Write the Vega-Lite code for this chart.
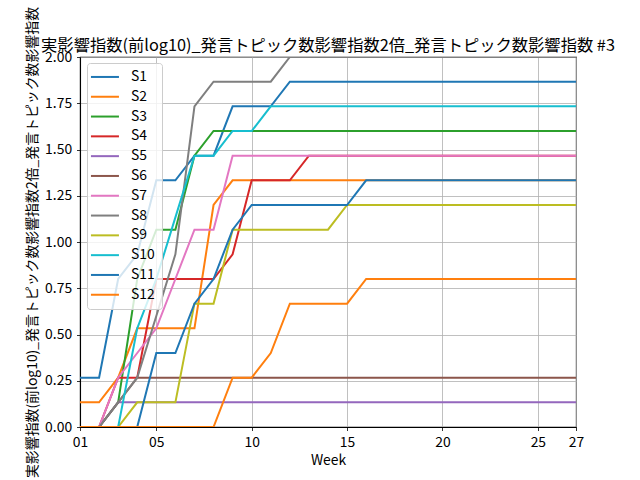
{
  "$schema": "https://vega.github.io/schema/vega-lite/v6.json",
  "width": 496,
  "height": 370,
  "autosize": {"type": "none"},
  "padding": {"left": 80, "top": 57, "right": 64, "bottom": 53},
  "background": "white",
  "title": {
    "text": "実影響指数(前log10)_発言トピック数影響指数2倍_発言トピック数影響指数 #3",
    "font": "Noto Sans CJK JP",
    "fontSize": 16.3,
    "fontWeight": "normal",
    "color": "black",
    "frame": "group",
    "anchor": "middle",
    "baseline": "alphabetic",
    "offset": -61
  },
  "data": {
    "values": [
      {"w":1,"S1":0.2667,"S2":0.1333,"S3":0,"S4":0,"S5":0,"S6":0,"S7":0,"S8":0,"S9":0,"S10":0,"S11":0,"S12":0},
      {"w":2,"S1":0.2667,"S2":0.1333,"S3":0,"S4":0,"S5":0,"S6":0,"S7":0,"S8":0,"S9":0,"S10":0,"S11":0,"S12":0},
      {"w":3,"S1":0.8,"S2":0.2667,"S3":0.1333,"S4":0.2667,"S5":0.1333,"S6":0.1333,"S7":0.2667,"S8":0.1333,"S9":0,"S10":0,"S11":0,"S12":0},
      {"w":4,"S1":0.9333,"S2":0.5333,"S3":0.8,"S4":0.2667,"S5":0.1333,"S6":0.2667,"S7":0.4,"S8":0.2667,"S9":0.1333,"S10":0.5333,"S11":0,"S12":0},
      {"w":5,"S1":1.3333,"S2":0.5333,"S3":1.0667,"S4":0.8,"S5":0.1333,"S6":0.2667,"S7":0.5333,"S8":0.6,"S9":0.1333,"S10":0.8,"S11":0.4,"S12":0},
      {"w":6,"S1":1.3333,"S2":0.5333,"S3":1.0667,"S4":0.8,"S5":0.1333,"S6":0.2667,"S7":0.8,"S8":0.9333,"S9":0.1333,"S10":1.1333,"S11":0.4,"S12":0},
      {"w":7,"S1":1.4667,"S2":0.5333,"S3":1.4667,"S4":0.8,"S5":0.1333,"S6":0.2667,"S7":1.0667,"S8":1.7333,"S9":0.6667,"S10":1.4667,"S11":0.6667,"S12":0},
      {"w":8,"S1":1.4667,"S2":1.2,"S3":1.6,"S4":0.8,"S5":0.1333,"S6":0.2667,"S7":1.0667,"S8":1.8667,"S9":0.6667,"S10":1.4667,"S11":0.8,"S12":0},
      {"w":9,"S1":1.7333,"S2":1.3333,"S3":1.6,"S4":0.9333,"S5":0.1333,"S6":0.2667,"S7":1.4667,"S8":1.8667,"S9":1.0667,"S10":1.6,"S11":1.0667,"S12":0.2667},
      {"w":10,"S1":1.7333,"S2":1.3333,"S3":1.6,"S4":1.3333,"S5":0.1333,"S6":0.2667,"S7":1.4667,"S8":1.8667,"S9":1.0667,"S10":1.6,"S11":1.2,"S12":0.2667},
      {"w":11,"S1":1.7333,"S2":1.3333,"S3":1.6,"S4":1.3333,"S5":0.1333,"S6":0.2667,"S7":1.4667,"S8":1.8667,"S9":1.0667,"S10":1.7333,"S11":1.2,"S12":0.4},
      {"w":12,"S1":1.8667,"S2":1.3333,"S3":1.6,"S4":1.3333,"S5":0.1333,"S6":0.2667,"S7":1.4667,"S8":2,"S9":1.0667,"S10":1.7333,"S11":1.2,"S12":0.6667},
      {"w":13,"S1":1.8667,"S2":1.3333,"S3":1.6,"S4":1.4667,"S5":0.1333,"S6":0.2667,"S7":1.4667,"S8":2,"S9":1.0667,"S10":1.7333,"S11":1.2,"S12":0.6667},
      {"w":14,"S1":1.8667,"S2":1.3333,"S3":1.6,"S4":1.4667,"S5":0.1333,"S6":0.2667,"S7":1.4667,"S8":2,"S9":1.0667,"S10":1.7333,"S11":1.2,"S12":0.6667},
      {"w":15,"S1":1.8667,"S2":1.3333,"S3":1.6,"S4":1.4667,"S5":0.1333,"S6":0.2667,"S7":1.4667,"S8":2,"S9":1.2,"S10":1.7333,"S11":1.2,"S12":0.6667},
      {"w":16,"S1":1.8667,"S2":1.3333,"S3":1.6,"S4":1.4667,"S5":0.1333,"S6":0.2667,"S7":1.4667,"S8":2,"S9":1.2,"S10":1.7333,"S11":1.3333,"S12":0.8},
      {"w":17,"S1":1.8667,"S2":1.3333,"S3":1.6,"S4":1.4667,"S5":0.1333,"S6":0.2667,"S7":1.4667,"S8":2,"S9":1.2,"S10":1.7333,"S11":1.3333,"S12":0.8},
      {"w":18,"S1":1.8667,"S2":1.3333,"S3":1.6,"S4":1.4667,"S5":0.1333,"S6":0.2667,"S7":1.4667,"S8":2,"S9":1.2,"S10":1.7333,"S11":1.3333,"S12":0.8},
      {"w":19,"S1":1.8667,"S2":1.3333,"S3":1.6,"S4":1.4667,"S5":0.1333,"S6":0.2667,"S7":1.4667,"S8":2,"S9":1.2,"S10":1.7333,"S11":1.3333,"S12":0.8},
      {"w":20,"S1":1.8667,"S2":1.3333,"S3":1.6,"S4":1.4667,"S5":0.1333,"S6":0.2667,"S7":1.4667,"S8":2,"S9":1.2,"S10":1.7333,"S11":1.3333,"S12":0.8},
      {"w":21,"S1":1.8667,"S2":1.3333,"S3":1.6,"S4":1.4667,"S5":0.1333,"S6":0.2667,"S7":1.4667,"S8":2,"S9":1.2,"S10":1.7333,"S11":1.3333,"S12":0.8},
      {"w":22,"S1":1.8667,"S2":1.3333,"S3":1.6,"S4":1.4667,"S5":0.1333,"S6":0.2667,"S7":1.4667,"S8":2,"S9":1.2,"S10":1.7333,"S11":1.3333,"S12":0.8},
      {"w":23,"S1":1.8667,"S2":1.3333,"S3":1.6,"S4":1.4667,"S5":0.1333,"S6":0.2667,"S7":1.4667,"S8":2,"S9":1.2,"S10":1.7333,"S11":1.3333,"S12":0.8},
      {"w":24,"S1":1.8667,"S2":1.3333,"S3":1.6,"S4":1.4667,"S5":0.1333,"S6":0.2667,"S7":1.4667,"S8":2,"S9":1.2,"S10":1.7333,"S11":1.3333,"S12":0.8},
      {"w":25,"S1":1.8667,"S2":1.3333,"S3":1.6,"S4":1.4667,"S5":0.1333,"S6":0.2667,"S7":1.4667,"S8":2,"S9":1.2,"S10":1.7333,"S11":1.3333,"S12":0.8},
      {"w":26,"S1":1.8667,"S2":1.3333,"S3":1.6,"S4":1.4667,"S5":0.1333,"S6":0.2667,"S7":1.4667,"S8":2,"S9":1.2,"S10":1.7333,"S11":1.3333,"S12":0.8},
      {"w":27,"S1":1.8667,"S2":1.3333,"S3":1.6,"S4":1.4667,"S5":0.1333,"S6":0.2667,"S7":1.4667,"S8":2,"S9":1.2,"S10":1.7333,"S11":1.3333,"S12":0.8}
    ]
  },
  "transform": [
    {"fold": ["S1","S2","S3","S4","S5","S6","S7","S8","S9","S10","S11","S12"], "as": ["series", "value"]}
  ],
  "mark": {"type": "line", "strokeWidth": 2, "clip": true},
  "encoding": {
    "x": {
      "field": "w",
      "type": "quantitative",
      "scale": {"domain": [1, 27], "nice": false, "zero": false},
      "axis": {
        "values": [1, 5, 10, 15, 20, 25, 27],
        "labelExpr": "datum.value < 10 ? '0' + datum.value : '' + datum.value",
        "title": "Week",
        "titlePadding": 4
      }
    },
    "y": {
      "field": "value",
      "type": "quantitative",
      "scale": {"domain": [0, 2], "nice": false},
      "axis": {
        "values": [0, 0.25, 0.5, 0.75, 1, 1.25, 1.5, 1.75, 2],
        "format": ".2f",
        "title": "実影響指数(前log10)_発言トピック数影響指数2倍_発言トピック数影響指数",
        "titlePadding": 5,
        "titleLimit": 2000
      }
    },
    "color": {
      "field": "series",
      "type": "nominal",
      "scale": {
        "domain": ["S1","S2","S3","S4","S5","S6","S7","S8","S9","S10","S11","S12"],
        "range": ["#1f77b4","#ff7f0e","#2ca02c","#d62728","#9467bd","#8c564b","#e377c2","#7f7f7f","#bcbd22","#17becf","#1f77b4","#ff7f0e"]
      },
      "legend": {
        "orient": "none",
        "legendX": 7,
        "legendY": 6,
        "title": null,
        "symbolType": "M-2.8,0H2.8",
        "symbolSize": 100,
        "symbolStrokeWidth": 2,
        "symbolOffset": 4,
        "labelFont": "Noto Sans CJK JP",
        "labelFontSize": 13.9,
        "labelColor": "black",
        "labelOffset": 19,
        "rowPadding": 4.8,
        "padding": 7,
        "fillColor": "rgba(255,255,255,0.8)",
        "strokeColor": "#cccccc",
        "cornerRadius": 3
      }
    }
  },
  "config": {
    "view": {"stroke": "black", "strokeWidth": 1.1},
    "axis": {
      "labelFont": "Noto Sans CJK JP",
      "labelFontSize": 13.9,
      "labelColor": "black",
      "titleFont": "Noto Sans CJK JP",
      "titleFontSize": 13.9,
      "titleFontWeight": "normal",
      "titleColor": "black",
      "grid": true,
      "gridColor": "#b0b0b0",
      "gridWidth": 0.8,
      "domainColor": "black",
      "domainWidth": 1.1,
      "tickColor": "black",
      "tickSize": 3.5,
      "tickWidth": 0.8,
      "labelPadding": 4.9,
      "labelFlush": false,
      "labelOverlap": false
    }
  }
}
